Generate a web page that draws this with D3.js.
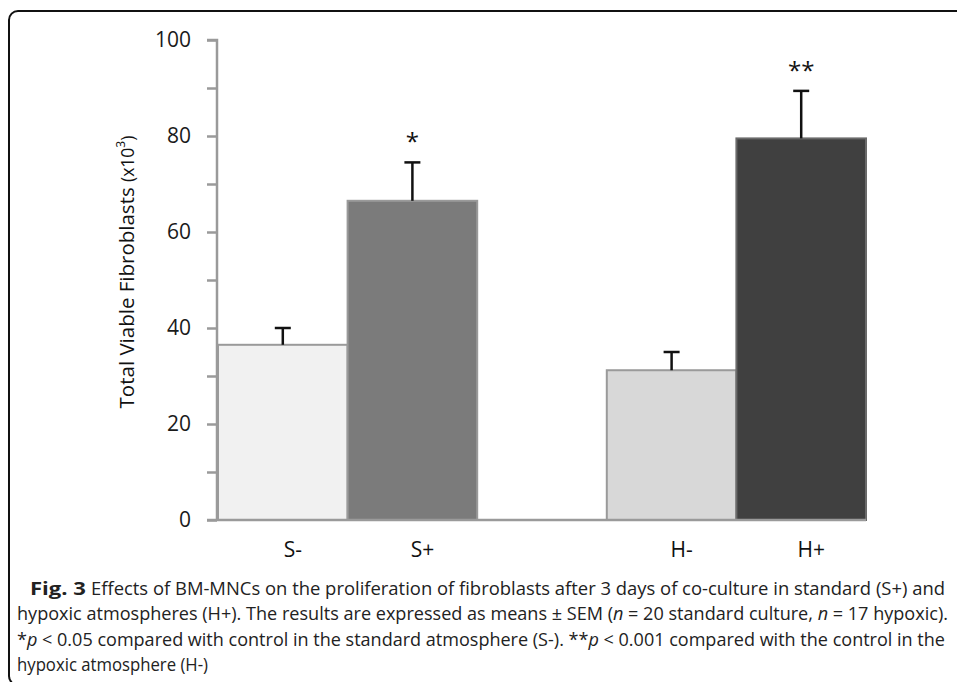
<!DOCTYPE html>
<html>
<head>
<meta charset="utf-8">
<script src="https://cdn.jsdelivr.net/npm/d3@7"></script>
<style>
  html, body { margin: 0; padding: 0; background: #fff; }
  svg { display: block; }
</style>
</head>
<body>
<svg id="chart" width="957" height="682"></svg>
<script>
// ---- data ----
const categories = ["S-", "S+", "H-", "H+"];
const means = [36.5, 66.5, 31.2, 79.5];
const sems = [3.5, 8.0, 3.8, 9.9];
const significance = ["", "*", "", "**"];
const barColors = ["#f1f1f1", "#7b7b7b", "#d8d8d8", "#404040"];
const yTicks = [0, 10, 20, 30, 40, 50, 60, 70, 80, 90, 100];
const yLabelTicks = [0, 20, 40, 60, 80, 100];

const svg = d3.select("#chart");

// frame
svg.append("rect")
  .attr("x", 9).attr("y", 11).attr("width", 990).attr("height", 674)
  .attr("rx", 9).attr("ry", 9)
  .attr("fill", "none").attr("stroke", "#111").attr("stroke-width", 2);

// scales
const slots = ["S-", "S+", "gap", "H-", "H+"];
const x = d3.scaleBand().domain(slots).range([218, 866]).padding(0);
const y = d3.scaleLinear().domain([0, 100]).range([520, 40]);

const font = "'Open Sans', 'Noto Sans', sans-serif";

// y axis
const yAxis = d3.axisLeft(y)
  .tickValues(yTicks)
  .tickSize(10)
  .tickPadding(16)
  .tickFormat(d => yLabelTicks.includes(d) ? d : "");
const gy = svg.append("g").attr("transform", "translate(217,0)").call(yAxis);
gy.select(".domain").attr("stroke", "#9a9a9a").attr("stroke-width", 2.5)
  .attr("d", `M-10,${y(100)}H0V${y(0)}`);
gy.selectAll(".tick line").attr("stroke", "#9a9a9a").attr("stroke-width", 2.5);
gy.selectAll(".tick text").attr("fill", "#1a1a1a").attr("font-size", 21).attr("font-family", font);

// bars
const data = categories.map((c, i) => ({ c, m: means[i], e: sems[i], s: significance[i], col: barColors[i] }));

svg.append("g").selectAll("rect").data(data).join("rect")
  .attr("x", d => x(d.c))
  .attr("width", x.bandwidth())
  .attr("y", d => y(d.m))
  .attr("height", d => y(0) - y(d.m))
  .attr("fill", d => d.col)
  .attr("stroke", d => d.c === "H+" ? "#6a6a6a" : "#9a9a9a")
  .attr("stroke-width", 2);

// x axis baseline
svg.append("line")
  .attr("x1", 207).attr("x2", x.range()[1])
  .attr("y1", y(0)).attr("y2", y(0))
  .attr("stroke", "#9a9a9a").attr("stroke-width", 2.5);

// error bars
const eg = svg.append("g").attr("stroke", "#111").attr("stroke-width", 2.5);
eg.selectAll("line.v").data(data).join("line").attr("class", "v")
  .attr("x1", d => x(d.c) + x.bandwidth() / 2)
  .attr("x2", d => x(d.c) + x.bandwidth() / 2)
  .attr("y1", d => y(d.m))
  .attr("y2", d => y(d.m + d.e));
eg.selectAll("line.cap").data(data).join("line").attr("class", "cap")
  .attr("x1", d => x(d.c) + x.bandwidth() / 2 - 8)
  .attr("x2", d => x(d.c) + x.bandwidth() / 2 + 8)
  .attr("y1", d => y(d.m + d.e))
  .attr("y2", d => y(d.m + d.e));

// significance
svg.append("g").selectAll("text").data(data.filter(d => d.s)).join("text")
  .attr("x", d => x(d.c) + x.bandwidth() / 2)
  .attr("y", d => y(d.m + d.e) - 12)
  .attr("text-anchor", "middle")
  .attr("font-family", font).attr("font-size", 24).attr("fill", "#111")
  .text(d => d.s);

// x labels
svg.append("g").selectAll("text").data(data).join("text")
  .attr("x", d => x(d.c) + x.bandwidth() / 2 + 10)
  .attr("y", 557)
  .attr("text-anchor", "middle")
  .attr("font-family", font).attr("font-size", 21).attr("fill", "#111")
  .text(d => d.c);

// y axis title
const yt = svg.append("text")
  .attr("transform", "translate(134,272) rotate(-90)")
  .attr("text-anchor", "middle")
  .attr("font-family", font).attr("font-size", 20.5).attr("fill", "#111");
yt.append("tspan").text("Total Viable Fibroblasts ");
yt.append("tspan").attr("font-size", 17.5).text("(x10");
yt.append("tspan").attr("font-size", 12).attr("dy", -9).text("3");
yt.append("tspan").attr("font-size", 17.5).attr("dy", 9).text(")");

// caption
const capFont = font;
svg.append("text").attr("x", 30).attr("y", 595)
  .attr("font-family", capFont).attr("font-size", 17).attr("font-weight", "bold").attr("fill", "#222")
  .attr("textLength", 56).attr("lengthAdjust", "spacingAndGlyphs")
  .text("Fig. 3");
function capLine(xp, yp, len, parts) {
  const t = svg.append("text").attr("x", xp).attr("y", yp)
    .attr("font-family", capFont).attr("font-size", 18).attr("fill", "#222")
    .attr("textLength", len).attr("lengthAdjust", "spacingAndGlyphs");
  parts.forEach(p => {
    const s = t.append("tspan").text(p[0]);
    if (p[1]) s.attr("font-style", "italic");
  });
}
capLine(91, 595, 854, [["Effects of BM-MNCs on the proliferation of fibroblasts after 3 days of co-culture in standard (S+) and"]]);
capLine(17, 620, 931, [["hypoxic atmospheres (H+). The results are expressed as means \u00b1 SEM ("], ["n", 1], [" = 20 standard culture, "], ["n", 1], [" = 17 hypoxic)."]]);
capLine(17, 646, 928, [["*"], ["p", 1], [" < 0.05 compared with control in the standard atmosphere (S-). **"], ["p", 1], [" < 0.001 compared with the control in the"]]);
capLine(17, 671, 191, [["hypoxic atmosphere (H-)"]]);
</script>
</body>
</html>
